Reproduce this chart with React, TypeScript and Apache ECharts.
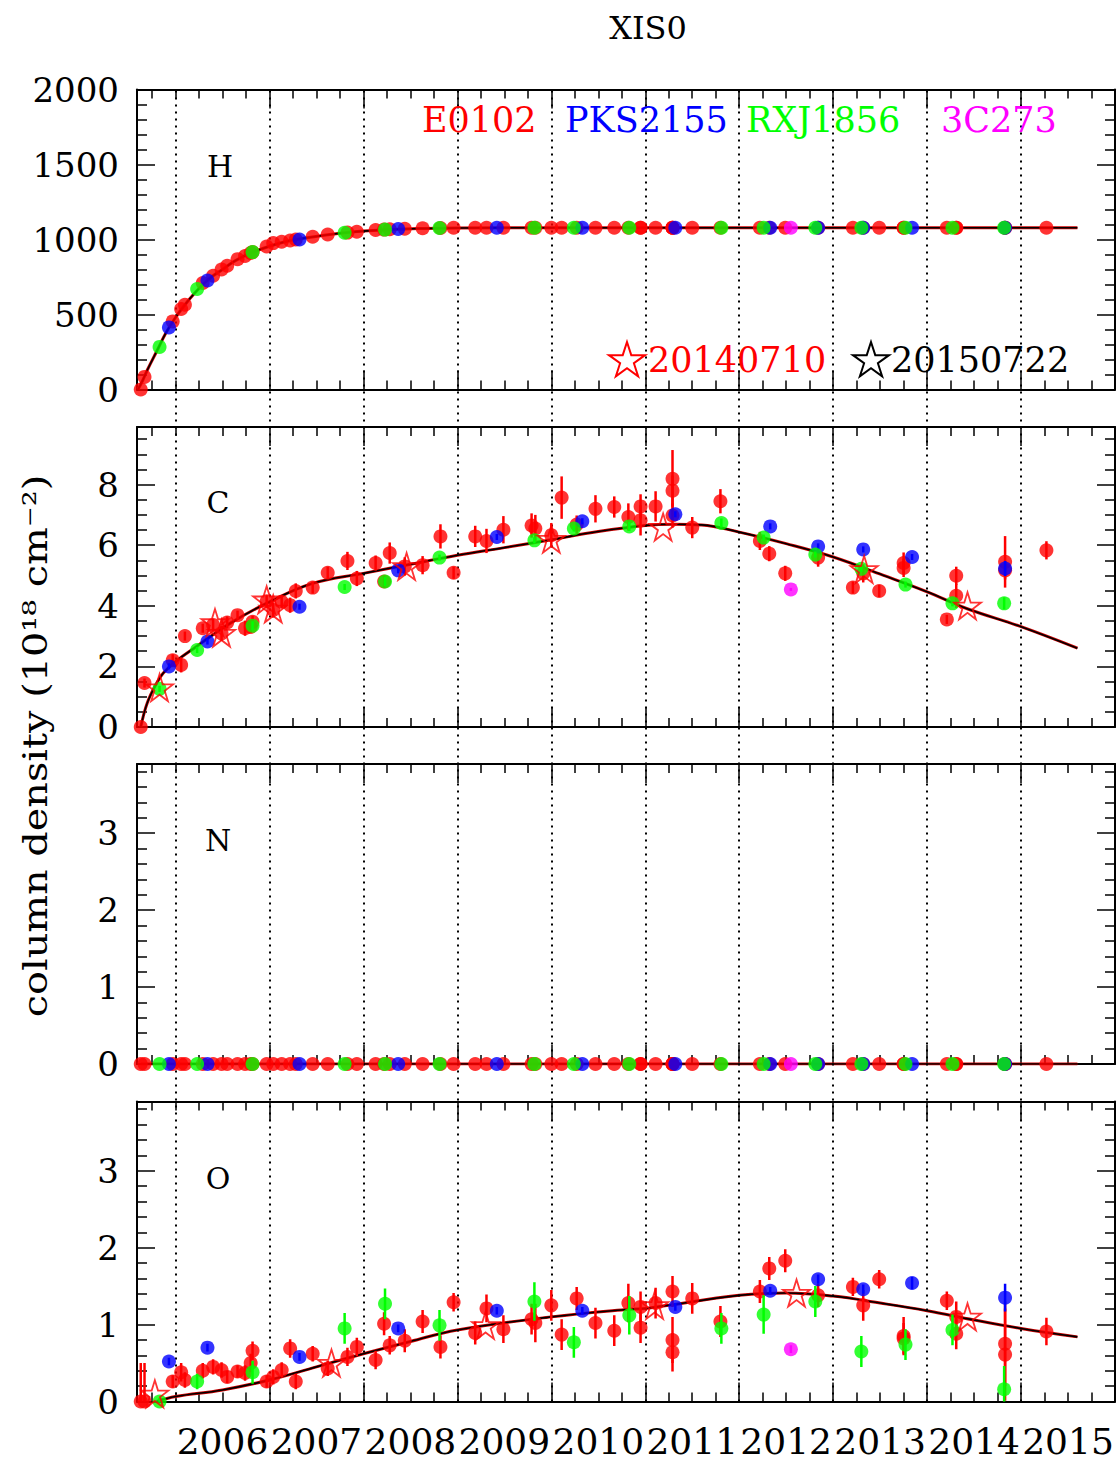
import React, { useEffect, useRef } from "react";
import * as echarts from "echarts";

// Each row: [year, H, C, C_err, N, O, O_err]
const E0102: number[][] = [
  [2005.63, 0, 0.0, 0.0, 0, 0.0, 0.5],
  [2005.67, 84, 1.45, 0.15, 0, 0.0, 0.5],
  [2005.97, 454, 2.2, 0.2, 0, 0.26, 0.08],
  [2006.06, 537, 2.05, 0.25, 0, 0.38, 0.12],
  [2006.1, 565, 3.0, 0.15, 0, 0.28, 0.1],
  [2006.29, 710, 3.26, 0.15, 0, 0.4, 0.1],
  [2006.4, 758, 3.37, 0.2, 0, 0.45, 0.1],
  [2006.49, 800, 3.09, 0.25, 0, 0.41, 0.1],
  [2006.55, 825, 3.45, 0.2, 0, 0.32, 0.08],
  [2006.66, 869, 3.69, 0.15, 0, 0.39, 0.08],
  [2006.74, 890, 3.26, 0.25, 0, 0.37, 0.1],
  [2006.8, 910, 3.3, 0.2, 0, 0.5, 0.12],
  [2006.82, 916, 3.47, 0.2, 0, 0.66, 0.12],
  [2006.97, 953, 4.15, 0.2, 0, 0.26, 0.08],
  [2007.04, 976, 3.86, 0.25, 0, 0.32, 0.1],
  [2007.13, 985, 4.13, 0.2, 0, 0.41, 0.1],
  [2007.22, 993, 4.02, 0.25, 0, 0.69, 0.12],
  [2007.28, 1000, 4.49, 0.25, 0, 0.26, 0.1],
  [2007.46, 1018, 4.6, 0.2, 0, 0.62, 0.1],
  [2007.62, 1033, 5.09, 0.2, 0, 0.43, 0.1],
  [2007.83, 1046, 5.48, 0.3, 0, 0.58, 0.12],
  [2007.93, 1052, 4.9, 0.25, 0, 0.71, 0.12],
  [2008.13, 1063, 5.41, 0.25, 0, 0.54, 0.12],
  [2008.22, 1066, 4.8, 0.2, 0, 1.01, 0.15],
  [2008.28, 1068, 5.74, 0.35, 0, 0.73, 0.12],
  [2008.44, 1072, 5.3, 0.3, 0, 0.79, 0.15],
  [2008.63, 1075, 5.34, 0.3, 0, 1.04, 0.15],
  [2008.82, 1077, 6.29, 0.4, 0, 0.71, 0.15],
  [2008.96, 1078, 5.09, 0.2, 0, 1.29, 0.12],
  [2009.19, 1078, 6.29, 0.35, 0, 0.89, 0.15],
  [2009.31, 1078, 6.14, 0.4, 0, 1.21, 0.18],
  [2009.49, 1078, 6.51, 0.45, 0, 0.94, 0.18],
  [2009.79, 1078, 6.65, 0.4, 0, 1.07, 0.2],
  [2009.83, 1078, 6.55, 0.45, 0, 1.02, 0.25],
  [2010.0, 1078, 6.33, 0.4, 0, 1.25, 0.2],
  [2010.11, 1078, 7.57, 0.7, 0, 0.87, 0.2],
  [2010.27, 1078, 6.68, 0.3, 0, 1.34, 0.15],
  [2010.47, 1078, 7.2, 0.45, 0, 1.02, 0.2],
  [2010.67, 1078, 7.26, 0.35, 0, 0.92, 0.2],
  [2010.82, 1078, 6.93, 0.45, 0, 1.28, 0.25],
  [2010.95, 1078, 7.28, 0.4, 0, 1.23, 0.2],
  [2010.95, 1078, 6.82, 0.5, 0, 0.96, 0.2],
  [2011.11, 1078, 7.28, 0.5, 0, 1.28, 0.2],
  [2011.29, 1078, 8.19, 0.95, 0, 1.43, 0.2],
  [2011.29, 1078, 7.8, 0.5, 0, 0.8, 0.3],
  [2011.29, 1078, 6.98, 0.4, 0, 0.64, 0.25],
  [2011.5, 1078, 6.58, 0.35, 0, 1.34, 0.2],
  [2011.8, 1078, 7.45, 0.4, 0, 1.04, 0.2],
  [2012.22, 1078, 6.14, 0.3, 0, 1.43, 0.15],
  [2012.32, 1078, 5.72, 0.25, 0, 1.73, 0.15],
  [2012.49, 1078, 5.07, 0.25, 0, 1.83, 0.15],
  [2012.84, 1078, 5.59, 0.3, 0, 1.38, 0.15],
  [2013.21, 1078, 4.6, 0.2, 0, 1.49, 0.12],
  [2013.32, 1078, 5.07, 0.3, 0, 1.25, 0.2],
  [2013.49, 1078, 4.49, 0.2, 0, 1.59, 0.12],
  [2013.75, 1078, 5.41, 0.35, 0, 0.85, 0.25],
  [2013.75, 1078, 5.25, 0.3, 0, 0.82, 0.2],
  [2014.21, 1078, 3.55, 0.15, 0, 1.31, 0.12],
  [2014.31, 1078, 4.99, 0.3, 0, 1.1, 0.2],
  [2014.31, 1078, 4.33, 0.4, 0, 0.88, 0.2],
  [2014.83, 1078, 5.45, 0.85, 0, 0.75, 0.55],
  [2014.83, 1078, 5.17, 0.3, 0, 0.61, 0.6],
  [2015.27, 1078, 5.83, 0.3, 0, 0.91, 0.18],
];

const PKS2155: number[][] = [
  [2005.93, 414, 2.0, 0.1, 0, 0.52, 0.05],
  [2006.34, 727, 2.82, 0.1, 0, 0.7, 0.05],
  [2007.32, 1000, 3.97, 0.1, 0, 0.58, 0.05],
  [2008.37, 1070, 5.17, 0.1, 0, 0.95, 0.05],
  [2009.42, 1078, 6.27, 0.1, 0, 1.18, 0.05],
  [2010.33, 1078, 6.79, 0.1, 0, 1.18, 0.05],
  [2011.32, 1078, 7.02, 0.1, 0, 1.23, 0.05],
  [2012.33, 1078, 6.62, 0.1, 0, 1.44, 0.05],
  [2012.84, 1078, 5.96, 0.1, 0, 1.59, 0.06],
  [2013.32, 1078, 5.86, 0.1, 0, 1.46, 0.06],
  [2013.84, 1078, 5.61, 0.1, 0, 1.54, 0.08],
  [2014.83, 1078, 5.23, 0.25, 0, 1.35, 0.18],
];

const RXJ1856: number[][] = [
  [2005.83, 284, 1.26, 0.1, 0, 0.0, 0.05],
  [2006.23, 670, 2.54, 0.1, 0, 0.26, 0.1],
  [2006.82, 916, 3.34, 0.15, 0, 0.38, 0.15],
  [2007.8, 1045, 4.62, 0.1, 0, 0.95, 0.2],
  [2008.23, 1066, 4.8, 0.15, 0, 1.27, 0.2],
  [2008.81, 1077, 5.59, 0.1, 0, 0.99, 0.2],
  [2009.82, 1078, 6.16, 0.1, 0, 1.3, 0.25],
  [2010.24, 1078, 6.55, 0.1, 0, 0.77, 0.2],
  [2010.83, 1078, 6.62, 0.15, 0, 1.12, 0.25],
  [2011.81, 1078, 6.73, 0.15, 0, 0.95, 0.2],
  [2012.26, 1078, 6.25, 0.1, 0, 1.13, 0.25],
  [2012.81, 1078, 5.69, 0.1, 0, 1.3, 0.2],
  [2013.3, 1078, 5.22, 0.1, 0, 0.65, 0.2],
  [2013.77, 1078, 4.7, 0.1, 0, 0.74, 0.2],
  [2014.27, 1078, 4.08, 0.1, 0, 0.93, 0.2],
  [2014.82, 1078, 4.08, 0.2, 0, 0.16, 0.3],
];

const C3C273: number[][] = [[2012.55, 1078, 4.54, 0.05, 0, 0.68, 0.05]];

// open red stars (20140710)
const STARS_C: number[][] = [
  [2005.83, 1.3], [2006.42, 3.45], [2006.49, 3.1], [2006.97, 4.2], [2007.04, 3.9],
  [2008.46, 5.3], [2010.0, 6.2], [2011.19, 6.6], [2013.33, 5.2], [2014.43, 4.0],
];
const STARS_O: number[][] = [
  [2005.78, 0.1], [2007.66, 0.5], [2009.3, 0.99], [2011.1, 1.25], [2012.61, 1.41], [2014.43, 1.1],
];

// model curves
const FIT_H: number[][] = [
  [2005.6, 0], [2005.65, 60], [2005.7, 130], [2005.8, 255], [2005.9, 380], [2006.0, 480],
  [2006.1, 565], [2006.2, 640], [2006.3, 705], [2006.4, 758], [2006.5, 800], [2006.6, 845],
  [2006.7, 880], [2006.8, 910], [2007.0, 955], [2007.2, 990], [2007.4, 1012], [2007.6, 1030],
  [2007.8, 1045], [2008.0, 1056], [2008.3, 1067], [2008.6, 1073], [2009.0, 1077], [2010.0, 1078],
  [2015.6, 1078],
];
const FIT_C: number[][] = [
  [2005.63, 0], [2005.7, 0.8], [2005.8, 1.45], [2005.87, 1.78], [2006.0, 2.16], [2006.22, 2.65],
  [2006.58, 3.42], [2007.0, 4.13], [2007.46, 4.74], [2008.0, 5.07], [2008.53, 5.39], [2009.0, 5.67],
  [2009.5, 5.92], [2010.0, 6.18], [2010.5, 6.45], [2011.0, 6.65], [2011.3, 6.69], [2011.6, 6.67],
  [2012.0, 6.43], [2012.5, 6.05], [2013.0, 5.61], [2013.53, 5.01], [2014.0, 4.46], [2014.42, 3.91],
  [2015.0, 3.31], [2015.6, 2.6],
];
const FIT_N: number[][] = [[2005.63, 0], [2015.6, 0]];
const FIT_O: number[][] = [
  [2005.8, 0.0], [2006.0, 0.065], [2006.5, 0.15], [2007.0, 0.28], [2007.5, 0.45], [2008.0, 0.62],
  [2008.5, 0.78], [2009.0, 0.93], [2010.0, 1.1], [2010.83, 1.2], [2011.0, 1.21], [2012.0, 1.38],
  [2012.5, 1.41], [2013.0, 1.37], [2013.5, 1.28], [2014.0, 1.18], [2014.5, 1.06], [2015.0, 0.95],
  [2015.6, 0.84],
];

const YEAR_LINES = [2006, 2007, 2008, 2009, 2010, 2011, 2012, 2013, 2014, 2015];
const YEAR_LABELS = [2006, 2007, 2008, 2009, 2010, 2011, 2012, 2013, 2014, 2015];
const X_MAJOR_TICKS = [2007, 2008, 2009, 2010, 2011, 2012, 2013, 2014, 2015];
const PANEL_NAMES = ["H", "C", "N", "O"];
const Y_MAX = [2000, 9.9, 3.9, 3.9];
const Y_LABELS = [
  [0, 500, 1000, 1500, 2000],
  [0, 2, 4, 6, 8],
  [0, 1, 2, 3],
  [0, 1, 2, 3],
];
const Y_MINOR_STEP = [100, 0.5, 0.2, 0.2];

const X_MIN = 2005.59;
const X_MAX = 2016.0;
const FONT = '"DejaVu Serif", serif';
const GRID_LEFT = 137;
const GRID_W = 978;
const GRID_TOP = [89.5, 427, 764, 1101.5];
const GRID_H = 300;

const STAR_PATH =
  "path://M50,0L61.2,34.5L97.6,34.5L68.2,55.9L79.4,90.5L50,69.1L20.6,90.5L31.8,55.9L2.4,34.5L38.8,34.5Z";

function minorTicks(max: number, step: number, majors: number[]) {
  const out: number[] = [];
  for (let i = 1; i * step < max + 1e-9; i++) {
    const v = Math.round(i * step * 1000) / 1000;
    if (!majors.some((m) => Math.abs(m - v) < 1e-6)) out.push(v);
  }
  return out;
}

function xMinorTicks() {
  const out: number[] = [];
  for (let q = 2005.75; q <= 2015.76; q += 0.25) {
    const v = Math.round(q * 100) / 100;
    if (!X_MAJOR_TICKS.includes(v)) out.push(v);
  }
  return out;
}

function starPts(cx: number, cy: number, R: number) {
  const pts: number[][] = [];
  for (let i = 0; i < 10; i++) {
    const r = i % 2 === 0 ? R : R * 0.382;
    const a = -Math.PI / 2 + (i * Math.PI) / 5;
    pts.push([cx + r * Math.cos(a), cy + r * Math.sin(a)]);
  }
  return pts;
}

function buildOption() {
  const grids: any[] = [];
  const xAxes: any[] = [];
  const yAxes: any[] = [];
  const series: any[] = [];
  const tickStyle = { color: "#000", width: 1.5 };
  const lineStyle = { color: "#000", width: 2 };
  const xMinor = xMinorTicks();

  for (let g = 0; g < 4; g++) {
    grids.push({ left: GRID_LEFT, top: GRID_TOP[g], width: GRID_W, height: GRID_H });
    const xb = {
      type: "value", gridIndex: g, min: X_MIN, max: X_MAX,
      splitLine: { show: false }, axisLabel: { show: false },
      axisLine: { show: false, onZero: false },
    };
    xAxes.push({
      ...xb, position: "bottom",
      axisLine: { show: true, onZero: false, lineStyle },
      axisTick: { show: true, inside: true, length: 19, customValues: X_MAJOR_TICKS, lineStyle: tickStyle },
      axisLabel: g === 3
        ? {
            show: true, customValues: YEAR_LABELS.map((y) => y + 0.5),
            formatter: (v: number) => String(Math.floor(v)),
            fontFamily: FONT, fontSize: 36, color: "#000", margin: 22,
          }
        : { show: false },
    });
    xAxes.push({ ...xb, position: "bottom", axisTick: { show: true, inside: true, length: 9, customValues: xMinor, lineStyle: tickStyle } });
    xAxes.push({
      ...xb, position: "top",
      axisLine: { show: true, onZero: false, lineStyle },
      axisTick: { show: true, inside: true, length: 19, customValues: X_MAJOR_TICKS, lineStyle: tickStyle },
    });
    xAxes.push({ ...xb, position: "top", axisTick: { show: true, inside: true, length: 9, customValues: xMinor, lineStyle: tickStyle } });

    const majors = Y_LABELS[g];
    const yMinor = minorTicks(Y_MAX[g], Y_MINOR_STEP[g], majors);
    const yb = {
      type: "value", gridIndex: g, min: 0, max: Y_MAX[g],
      splitLine: { show: false }, axisLabel: { show: false },
      axisLine: { show: false, onZero: false },
    };
    yAxes.push({
      ...yb, position: "left",
      axisLine: { show: true, onZero: false, lineStyle },
      axisTick: { show: true, inside: true, length: 18, customValues: majors, lineStyle: tickStyle },
      axisLabel: {
        show: true, customValues: majors, formatter: (v: number) => String(v),
        fontFamily: FONT, fontSize: 34, color: "#000", margin: 18,
      },
    });
    yAxes.push({ ...yb, position: "left", axisTick: { show: true, inside: true, length: 10, customValues: yMinor, lineStyle: tickStyle } });
    yAxes.push({
      ...yb, position: "right",
      axisLine: { show: true, onZero: false, lineStyle },
      axisTick: { show: true, inside: true, length: 18, customValues: majors, lineStyle: tickStyle },
    });
    yAxes.push({ ...yb, position: "right", axisTick: { show: true, inside: true, length: 10, customValues: yMinor, lineStyle: tickStyle } });
  }

  // full height grid for dotted year lines
  grids.push({ left: GRID_LEFT, top: GRID_TOP[0], width: GRID_W, height: GRID_TOP[3] + GRID_H - GRID_TOP[0] });
  xAxes.push({ type: "value", gridIndex: 4, min: X_MIN, max: X_MAX, show: false });
  yAxes.push({ type: "value", gridIndex: 4, min: 0, max: 1, show: false });
  series.push({
    type: "scatter", xAxisIndex: 16, yAxisIndex: 16, data: [[2010, 0.5]], symbolSize: 0,
    itemStyle: { opacity: 0 }, silent: true, z: 1,
    markLine: {
      symbol: "none", silent: true, label: { show: false },
      lineStyle: { color: "#000", type: [2, 5], width: 2 },
      data: YEAR_LINES.map((y) => ({ xAxis: y })),
    },
  });

  const fits = [FIT_H, FIT_C, FIT_N, FIT_O];
  const cols = [{ v: 1, e: -1 }, { v: 2, e: 3 }, { v: 4, e: -1 }, { v: 5, e: 6 }];
  const targets = [
    { rows: E0102, color: "#ff0000" },
    { rows: PKS2155, color: "#0000ff" },
    { rows: RXJ1856, color: "#00ff00" },
    { rows: C3C273, color: "#ff00ff" },
  ];

  for (let g = 0; g < 4; g++) {
    const xi = g * 4;
    const yi = g * 4;
    series.push({
      type: "line", xAxisIndex: xi, yAxisIndex: yi, data: fits[g], symbol: "none", smooth: 0.4,
      lineStyle: { color: "#cc0000", width: 3 }, silent: true, z: 3,
    });
    series.push({
      type: "line", xAxisIndex: xi, yAxisIndex: yi, data: fits[g], symbol: "none", smooth: 0.4,
      lineStyle: { color: "#000", width: 1.6 }, silent: true, z: 4,
    });
    const c = cols[g];
    targets.forEach((t, ti) => {
      if (c.e >= 0) {
        const color = t.color;
        series.push({
          type: "custom", xAxisIndex: xi, yAxisIndex: yi, clip: true, silent: true, z: 5 + ti * 2,
          data: t.rows.map((r) => [r[0], r[c.v], r[c.e]]),
          encode: { x: 0, y: 1 },
          renderItem: (params: any, api: any) => {
            const x = api.value(0), y = api.value(1), e = api.value(2);
            const p1 = api.coord([x, y - e]);
            const p2 = api.coord([x, y + e]);
            return {
              type: "line",
              shape: { x1: p1[0], y1: p1[1], x2: p2[0], y2: p2[1] },
              style: { stroke: color, lineWidth: 2.5 },
            };
          },
        });
      }
      series.push({
        type: "scatter", xAxisIndex: xi, yAxisIndex: yi, silent: true, z: 6 + ti * 2,
        data: t.rows.map((r) => [r[0], r[c.v]]), symbol: "circle", symbolSize: 14,
        itemStyle: { color: t.color },
      });
    });
    const stars = g === 1 ? STARS_C : g === 3 ? STARS_O : null;
    if (stars) {
      series.push({
        type: "scatter", xAxisIndex: xi, yAxisIndex: yi, silent: true, z: 20,
        data: stars, symbol: STAR_PATH, symbolSize: 27,
        itemStyle: { color: "rgba(0,0,0,0)", borderColor: "#ff0000", borderWidth: 1.8 },
      });
    }
  }

  const txt = (x: number, y: number, text: string, size: number, fill = "#000", align = "left", extra: any = {}) => ({
    type: "text", x, y, silent: true, z: 50, ...extra,
    style: { text, fontSize: size, fontFamily: FONT, fill, textAlign: align, textVerticalAlign: "middle" },
  });

  const graphic: any[] = [
    txt(648, 28, "XIS0", 32, "#000", "center"),
    txt(220, 166, PANEL_NAMES[0], 30, "#000", "center"),
    txt(218, 502, PANEL_NAMES[1], 30, "#000", "center"),
    txt(218, 840, PANEL_NAMES[2], 30, "#000", "center"),
    txt(218, 1178, PANEL_NAMES[3], 30, "#000", "center"),
    txt(422, 120, "E0102", 35, "#ff0000"),
    txt(565, 120, "PKS2155", 35, "#0000ff"),
    txt(746, 120, "RXJ1856", 35, "#00ff00"),
    txt(941, 120, "3C273", 35, "#ff00ff"),
    txt(648, 360, "20140710", 35, "#ff0000"),
    txt(891, 360, "20150722", 35, "#000"),
    {
      type: "polygon", silent: true, z: 50,
      shape: { points: starPts(627, 361, 19) },
      style: { fill: "none", stroke: "#ff0000", lineWidth: 2 },
    },
    {
      type: "polygon", silent: true, z: 50,
      shape: { points: starPts(871, 361, 19) },
      style: { fill: "none", stroke: "#000", lineWidth: 2 },
    },
    txt(36, 746, "column density (10\u00b9\u2078 cm\u207b\u00b2)", 34, "#000", "center", {
      rotation: Math.PI / 2, scaleX: 1.17,
    }),
  ];

  return {
    animation: false,
    backgroundColor: "#fff",
    grid: grids,
    xAxis: xAxes,
    yAxis: yAxes,
    series,
    graphic,
  };
}

export default function App() {
  const ref = useRef<HTMLDivElement>(null);
  useEffect(() => {
    const chart = echarts.init(ref.current!, null, { renderer: "svg" });
    chart.setOption(buildOption() as any);
    return () => chart.dispose();
  }, []);
  return (
    <div
      ref={ref}
      style={{ position: "absolute", left: 0, top: 0, width: 1120, height: 1461, background: "#fff" }}
    />
  );
}
